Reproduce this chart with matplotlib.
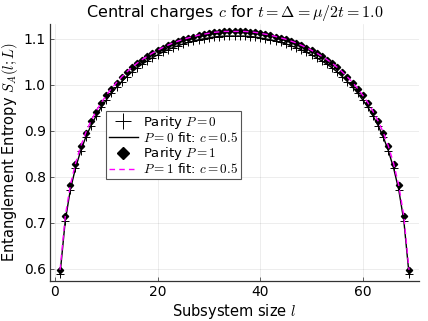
import matplotlib
matplotlib.use("Agg")
import matplotlib.pyplot as plt
import numpy as np

# subsystem sizes l = 1..69 (chain length L = 70)
sizes = list(range(1, 70))

# entanglement entropy, parity P = 0
entropy_p0 = [0.589, 0.704, 0.772, 0.819, 0.856, 0.886, 0.911, 0.932, 0.951, 0.967,
              0.982, 0.995, 1.007, 1.018, 1.028, 1.037, 1.045, 1.052, 1.059, 1.065,
              1.071, 1.076, 1.081, 1.085, 1.089, 1.092, 1.095, 1.098, 1.100, 1.102,
              1.104, 1.105, 1.106, 1.106, 1.106, 1.106, 1.106, 1.105, 1.104, 1.102,
              1.100, 1.098, 1.095, 1.092, 1.089, 1.085, 1.081, 1.076, 1.071, 1.065,
              1.059, 1.052, 1.045, 1.037, 1.028, 1.018, 1.007, 0.995, 0.982, 0.967,
              0.951, 0.932, 0.911, 0.886, 0.856, 0.819, 0.772, 0.704, 0.589]

# entanglement entropy, parity P = 1
entropy_p1 = [0.598, 0.714, 0.782, 0.829, 0.866, 0.896, 0.921, 0.942, 0.961, 0.977,
              0.992, 1.005, 1.017, 1.028, 1.038, 1.047, 1.055, 1.062, 1.069, 1.075,
              1.081, 1.086, 1.091, 1.095, 1.099, 1.102, 1.105, 1.108, 1.110, 1.112,
              1.114, 1.115, 1.116, 1.116, 1.116, 1.116, 1.116, 1.115, 1.114, 1.112,
              1.110, 1.108, 1.105, 1.102, 1.099, 1.095, 1.091, 1.086, 1.081, 1.075,
              1.069, 1.062, 1.055, 1.047, 1.038, 1.028, 1.017, 1.005, 0.992, 0.977,
              0.961, 0.942, 0.921, 0.896, 0.866, 0.829, 0.782, 0.714, 0.598]

# CFT fits (c = 0.5)
fit_p0 = entropy_p0
fit_p1 = entropy_p1

plt.rcParams['mathtext.fontset'] = 'cm'
plt.rcParams['font.family'] = 'DejaVu Sans'

fig = plt.figure(figsize=(4.28, 3.21), dpi=100)
ax = fig.add_axes([0.117, 0.125, 0.862, 0.80])

ax.plot(sizes, entropy_p0, linestyle='none', marker='+', markersize=5.5,
        markeredgewidth=0.7, color='black', label='Parity $P = 0$', zorder=3)
ax.plot(sizes, fit_p0, color='black', linewidth=1.0,
        label='$P = 0$ fit: $c = 0.5$', zorder=4)
ax.plot(sizes, entropy_p1, linestyle='none', marker='D', markersize=3.2,
        color='black', label='Parity $P = 1$', zorder=5)
ax.plot(sizes, fit_p1, color='magenta', linewidth=1.0, linestyle=(0, (4, 3)),
        label='$P = 1$ fit: $c = 0.5$', zorder=6)

ax.set_xlim(-0.95, 70.95)
ax.set_ylim(0.574, 1.132)
ax.set_xticks([0, 20, 40, 60])
ax.set_yticks([0.6, 0.7, 0.8, 0.9, 1.0, 1.1])
ax.grid(True, color='black', alpha=0.1, linewidth=0.5)
ax.set_axisbelow(True)

for side in ['top', 'right']:
    ax.spines[side].set_visible(False)
for side in ['left', 'bottom']:
    ax.spines[side].set_color('#333333')
    ax.spines[side].set_linewidth(0.9)
ax.tick_params(direction='in', length=3, width=0.6, color='#444444',
               labelsize=10, pad=3)

ax.set_title(r'Central charges $c$ for $t = \Delta = \mu/2t = 1.0$', fontsize=11.5, pad=5)
ax.set_xlabel('Subsystem size $l$', fontsize=10.5, labelpad=2)
ax.set_ylabel('Entanglement Entropy $S_A(l; L)$', fontsize=10.5, labelpad=3)

leg = ax.legend(loc='upper left', bbox_to_anchor=(106 / 428, 1 - 111 / 321),
                bbox_transform=fig.transFigure, borderaxespad=0, fontsize=9.5,
                fancybox=False, framealpha=1, edgecolor='#555555',
                handlelength=2.2, handletextpad=0.4, labelspacing=0.02,
                borderpad=0.2, markerscale=2.0)
leg.get_frame().set_linewidth(0.8)

fig.savefig('out.png', dpi=100)
